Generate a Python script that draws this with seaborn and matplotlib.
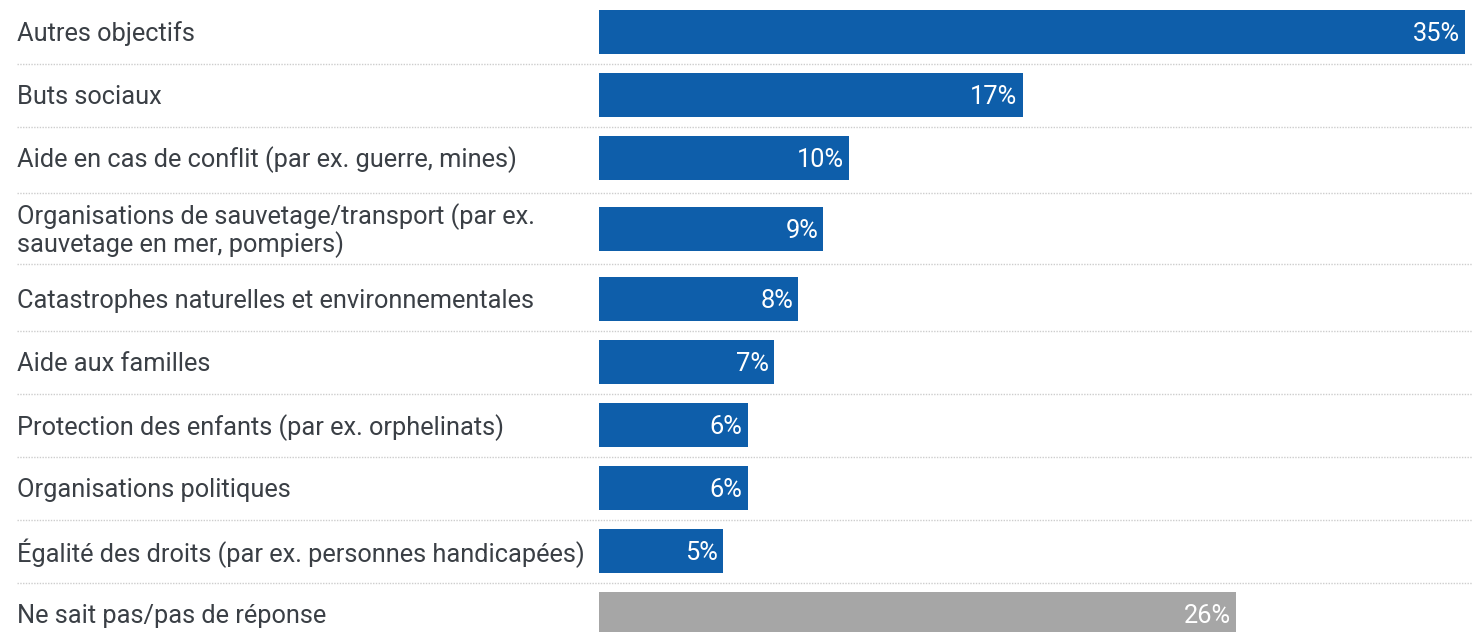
import matplotlib
matplotlib.use("Agg")
import matplotlib.pyplot as plt
import matplotlib.transforms as mtransforms
import seaborn as sns
import pandas as pd
import numpy as np

categories = [
    "Autres objectifs",
    "Buts sociaux",
    "Aide en cas de conflit (par ex. guerre, mines)",
    "Organisations de sauvetage/transport (par ex.\nsauvetage en mer, pompiers)",
    "Catastrophes naturelles et environnementales",
    "Aide aux familles",
    "Protection des enfants (par ex. orphelinats)",
    "Organisations politiques",
    "Égalité des droits (par ex. personnes handicapées)",
    "Ne sait pas/pas de réponse",
]
values = [34.95, 17.1, 10.1, 9.05, 8.05, 7.05, 6.0, 6.0, 5.0, 25.7]
groups = ["main"] * 9 + ["nr"]

BLUE = "#0E5EAA"
GREY = "#A6A6A6"
TEXT = "#3A3F45"
SEP = "#CDCDCD"

sns.set_theme(style="white")
plt.rcParams["font.family"] = ["Roboto", "DejaVu Sans"]

W, H, DPI = 1473, 632, 100
fig = plt.figure(figsize=(W / DPI, H / DPI), dpi=DPI)
ax_left_px = 599
ax = fig.add_axes([ax_left_px / W, 0, 1 - ax_left_px / W, 1])

# row positions: rows with two-line labels take extra room
nlines = [c.count("\n") + 1 for c in categories]
extra = 0.24
pos = []
acc = 0.0
for i, n in enumerate(nlines):
    half = extra / 2 * (n - 1)
    acc += half
    pos.append(i + acc)
    acc += half

df = pd.DataFrame({"cat": categories, "val": values, "grp": groups, "pos": pos})

sns.barplot(
    data=df, x="val", y="pos", hue="grp", orient="h", native_scale=True,
    palette={"main": BLUE, "nr": GREY}, width=0.70, legend=False,
    saturation=1, ax=ax, linewidth=0,
)

row_px = 63.0
top_center_px = 32.0
y_top = -top_center_px / row_px
y_bot = y_top + H / row_px
ax.set_ylim(y_bot, y_top)
xmax = 35 * (W - ax_left_px) / (1466 - ax_left_px)
ax.set_xlim(0, xmax)
ax.set_axis_off()

base = mtransforms.blended_transform_factory(ax.transAxes, ax.transData)
trans = mtransforms.offset_copy(base, fig=fig, x=0, y=-2, units="dots")
label_x = (17 - ax_left_px) / (W - ax_left_px)
fs = 18.3
for c, p in zip(categories, pos):
    ax.text(label_x, p, c, transform=trans, ha="left", va="center",
            fontsize=fs, color=TEXT, linespacing=1.1)

pad = mtransforms.offset_copy(ax.transData, fig=fig, x=-5, y=-2, units="dots")
for v, p in zip(values, pos):
    ax.text(v, p, f"{round(v)}%", transform=pad, ha="right", va="center",
            fontsize=fs, color="white")

# dotted separators between rows
for a, b in zip(pos[:-1], pos[1:]):
    ax.plot([label_x, 1.0], [(a + b) / 2] * 2, transform=base, color=SEP,
            linestyle=(0, (1, 1)), linewidth=1.0, clip_on=False, zorder=0)

fig.savefig("out.png", dpi=DPI, facecolor="white")
